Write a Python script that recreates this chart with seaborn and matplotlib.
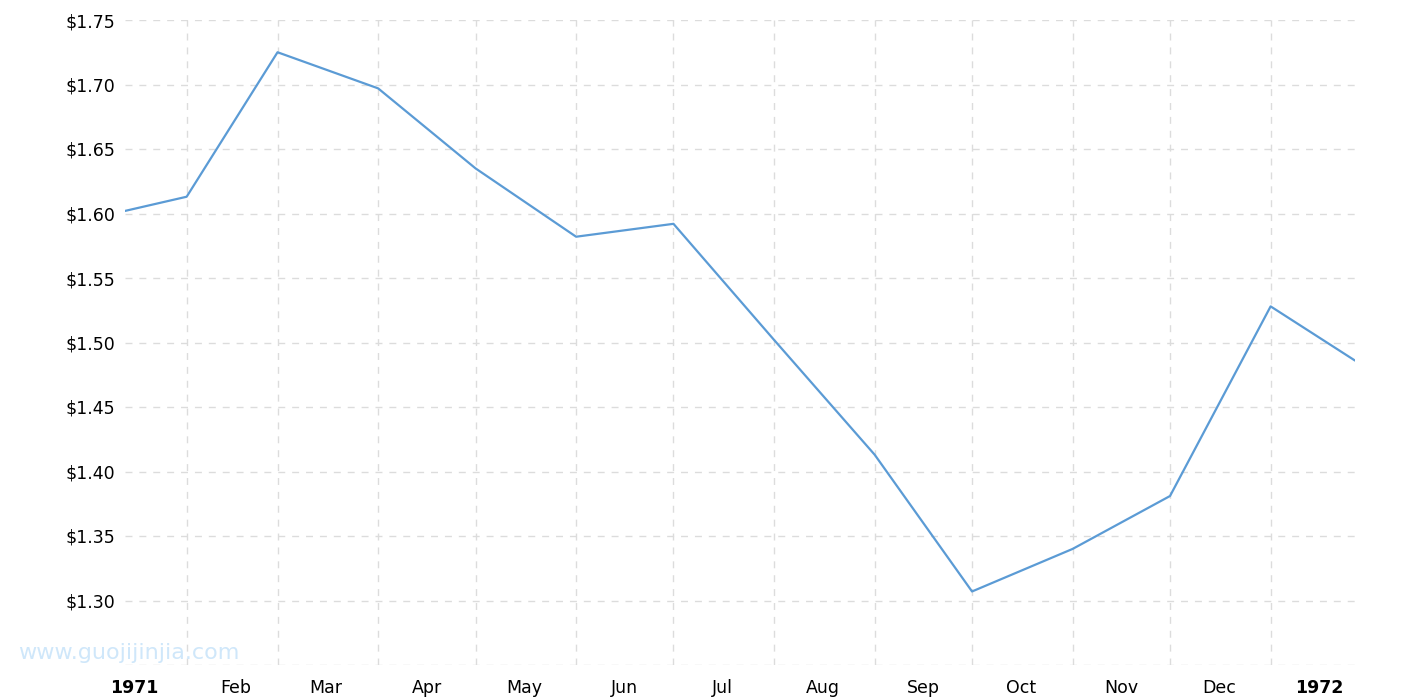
import pandas as pd
import matplotlib
matplotlib.use("Agg")
import matplotlib.pyplot as plt
import matplotlib.dates as mdates
import seaborn as sns

# Dados (preço mensal, 1971)
datas = ["1971-01-13", "1971-02-01", "1971-03-01", "1971-04-01", "1971-05-01",
         "1971-06-01", "1971-07-01", "1971-08-01", "1971-09-01", "1971-10-01",
         "1971-11-01", "1971-12-01", "1972-01-01", "1972-01-27"]
precos = [1.602, 1.613, 1.725, 1.697, 1.635, 1.582, 1.592, 1.502, 1.413,
          1.307, 1.340, 1.381, 1.528, 1.486]

# Rótulos do eixo x
rotulos_datas = ["1971-01-16", "1971-02-16", "1971-03-16", "1971-04-16", "1971-05-16",
                 "1971-06-16", "1971-07-16", "1971-08-16", "1971-09-16", "1971-10-16",
                 "1971-11-16", "1971-12-16", "1972-01-16"]
rotulos = ["1971", "Feb", "Mar", "Apr", "May", "Jun", "Jul", "Aug", "Sep", "Oct",
           "Nov", "Dec", "1972"]
grade_datas = datas[1:13]
y_ticks = [1.25, 1.30, 1.35, 1.40, 1.45, 1.50, 1.55, 1.60, 1.65, 1.70, 1.75]

df = pd.DataFrame({"data": pd.to_datetime(datas), "preco": precos})

sns.set_theme(style="white")
plt.rcParams["font.family"] = ["DejaVu Sans"]

fig = plt.figure(figsize=(14.15, 7), dpi=100)
ax = fig.add_axes([125 / 1415, 35 / 700, 1230 / 1415, 645 / 700])

sns.lineplot(data=df, x="data", y="preco", ax=ax, color="#5b9bd5", linewidth=1.6)

ax.set_xlim(df["data"].min(), df["data"].max())
ax.set_ylim(1.25, 1.75)

# Grade
for d in pd.to_datetime(grade_datas):
    ax.axvline(d, color="#dcdcdc", linestyle=(0, (5, 5)), linewidth=1, zorder=0)
for v in y_ticks:
    ax.axhline(v, color="#dcdcdc", linestyle=(0, (5, 5)), linewidth=1, zorder=0)

ax.set_yticks(y_ticks)
ax.set_yticklabels([""] + [f"${v:.2f}" for v in y_ticks[1:]], fontsize=12.5)
ax.set_xticks(mdates.date2num(pd.to_datetime(rotulos_datas)))
ax.set_xticklabels(rotulos, fontsize=12.5)
for lbl in ax.get_xticklabels():
    if lbl.get_text() in ("1971", "1972"):
        lbl.set_fontweight("bold")

ax.tick_params(axis="both", length=0, colors="black")
ax.tick_params(axis="x", pad=10)
ax.tick_params(axis="y", pad=7)
ax.set_xlabel("")
ax.set_ylabel("")
sns.despine(ax=ax, left=True, bottom=True)

# Marca d'água
fig.text(18 / 1415, 1 - 653 / 700, "www.guojijinjia.com", fontsize=16,
         color="#cfe7fa", va="center", ha="left")

fig.savefig("out.png", dpi=100)
